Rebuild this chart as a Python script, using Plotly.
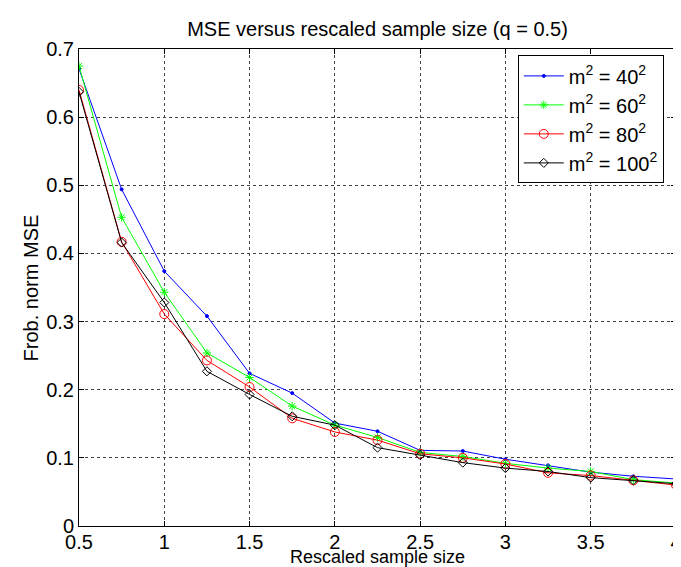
import plotly.graph_objects as go

x_vals = [0.5, 0.75, 1.0, 1.25, 1.5, 1.75, 2.0, 2.25, 2.5, 2.75, 3.0, 3.25, 3.5, 3.75, 4.0]

mse_40 = [0.671, 0.494, 0.374, 0.308, 0.224, 0.195, 0.151, 0.139, 0.111, 0.110, 0.098, 0.089, 0.079, 0.073, 0.069]
mse_60 = [0.675, 0.453, 0.343, 0.254, 0.218, 0.176, 0.148, 0.130, 0.108, 0.102, 0.092, 0.085, 0.080, 0.068, 0.063]
mse_80 = [0.640, 0.417, 0.311, 0.243, 0.204, 0.158, 0.138, 0.126, 0.106, 0.100, 0.091, 0.078, 0.074, 0.067, 0.060]
mse_100 = [0.637, 0.416, 0.328, 0.227, 0.193, 0.161, 0.148, 0.115, 0.104, 0.093, 0.085, 0.080, 0.071, 0.067, 0.062]

series_names = ["m<sup>2</sup> = 40<sup>2</sup>", "m<sup>2</sup> = 60<sup>2</sup>",
                "m<sup>2</sup> = 80<sup>2</sup>", "m<sup>2</sup> = 100<sup>2</sup>"]

x_ticks = [0.5, 1, 1.5, 2, 2.5, 3, 3.5, 4]
x_tick_labels = ["0.5", "1", "1.5", "2", "2.5", "3", "3.5", "4"]
y_ticks = [0, 0.1, 0.2, 0.3, 0.4, 0.5, 0.6, 0.7]
y_tick_labels = ["0", "0.1", "0.2", "0.3", "0.4", "0.5", "0.6", "0.7"]

FONT = "Liberation Sans, Arial, Helvetica, sans-serif"
FS = 20

styles = [
    dict(color="#0000ff", symbol="circle", size=3, lw=1),
    dict(color="#00ff00", symbol="asterisk-open", size=7, lw=1),
    dict(color="#ff0000", symbol="circle-open", size=9, lw=1),
    dict(color="#000000", symbol="diamond-open", size=7, lw=1),
]

fig = go.Figure()
for ys, name, st in zip([mse_40, mse_60, mse_80, mse_100], series_names, styles):
    fig.add_trace(go.Scatter(
        x=x_vals, y=ys, name=name, mode="lines+markers",
        line=dict(color=st["color"], width=st["lw"]),
        marker=dict(symbol=st["symbol"], size=st["size"], color=st["color"],
                    line=dict(color=st["color"], width=1)),
    ))

axis_common = dict(
    showline=True, linecolor="black", linewidth=1, mirror="ticks",
    ticks="inside", ticklen=5, tickcolor="black",
    showgrid=True, gridcolor="#444444", griddash="dot", gridwidth=1,
    zeroline=False,
    tickfont=dict(family=FONT, size=FS, color="black"),
)

fig.update_layout(
    width=681, height=567,
    margin=dict(l=71, r=7, t=41, b=49),
    paper_bgcolor="white", plot_bgcolor="white",
    font=dict(family=FONT, color="black"),
    title=dict(text="MSE versus rescaled sample size (q = 0.5)",
               xref="paper", x=0.5, xanchor="center", y=0.963, yanchor="middle",
               font=dict(family=FONT, size=FS, color="black")),
    xaxis=dict(range=[0.5, 4], tickvals=x_ticks, ticktext=x_tick_labels,
               ticklabelstandoff=-2, **axis_common),
    yaxis=dict(range=[0, 0.7], tickvals=y_ticks, ticktext=y_tick_labels,
               **axis_common),
    legend=dict(x=0.735, y=0.9866, xanchor="left", yanchor="top",
                bordercolor="black", borderwidth=1, bgcolor="white",
                font=dict(family=FONT, size=FS, color="black"),
                tracegroupgap=0, itemwidth=40),
    annotations=[
        dict(text="Rescaled sample size", xref="paper", yref="paper",
             x=0.5, y=-0.064, xanchor="center", yanchor="middle",
             showarrow=False, font=dict(family=FONT, size=18, color="black")),
        dict(text="Frob. norm MSE", xref="paper", yref="paper",
             x=-0.0806, y=0.5, xanchor="center", yanchor="middle",
             textangle=-90, showarrow=False,
             font=dict(family=FONT, size=FS, color="black")),
    ],
)

fig.write_html("out.html")
